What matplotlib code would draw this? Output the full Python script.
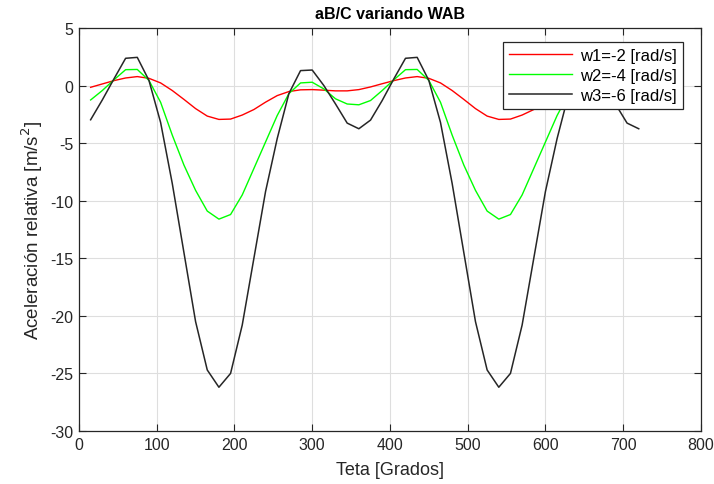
import matplotlib
matplotlib.use('Agg')
import matplotlib.pyplot as plt

# angle samples [deg]
teta = [15, 30, 45, 60, 75, 90, 105, 120, 135, 150, 165, 180,
        195, 210, 225, 240, 255, 270, 285, 300, 315, 330, 345, 360,
        375, 390, 405, 420, 435, 450, 465, 480, 495, 510, 525, 540,
        555, 570, 585, 600, 615, 630, 645, 660, 675, 690, 705, 720]

# relative acceleration [m/s^2]
a_w1 = [-0.15, 0.14, 0.43, 0.66, 0.78, 0.63, 0.23, -0.43, -1.2, -2.0, -2.65, -2.94,
        -2.91, -2.56, -2.08, -1.44, -0.87, -0.52, -0.37, -0.35, -0.40, -0.46, -0.46, -0.35,
        -0.12, 0.16, 0.43, 0.66, 0.78, 0.63, 0.23, -0.43, -1.2, -2.0, -2.65, -2.94,
        -2.91, -2.56, -2.08, -1.44, -0.87, -0.52, -0.37, -0.35, -0.40, -0.46, -0.46, -0.35]
a_w2 = [-1.25, -0.43, 0.5, 1.38, 1.40, 0.45, -1.45, -4.3, -6.9, -9.1, -10.9, -11.6,
        -11.2, -9.5, -7.2, -4.9, -2.6, -0.7, 0.23, 0.29, -0.29, -1.15, -1.6, -1.67,
        -1.3, -0.43, 0.5, 1.38, 1.40, 0.45, -1.45, -4.3, -6.9, -9.1, -10.9, -11.6,
        -11.2, -9.5, -7.2, -4.9, -2.6, -0.7, 0.23, 0.29, -0.29, -1.15, -1.6, -1.67]
a_w3 = [-2.97, -1.25, 0.58, 2.37, 2.45, 0.45, -3.2, -8.5, -14.5, -20.5, -24.7, -26.2,
        -25.0, -20.8, -15.0, -9.2, -4.6, -0.7, 1.3, 1.35, 0.0, -1.6, -3.26, -3.75,
        -3.0, -1.3, 0.58, 2.37, 2.45, 0.45, -3.2, -8.5, -14.5, -20.5, -24.7, -26.2,
        -25.0, -20.8, -15.0, -9.2, -4.6, -0.7, 1.3, 1.35, 0.0, -1.6, -3.26, -3.75]

labels = ['w1=-2 [rad/s]', 'w2=-4 [rad/s]', 'w3=-6 [rad/s]']

plt.rcParams['font.family'] = ['Liberation Sans', 'DejaVu Sans']
plt.rcParams['axes.unicode_minus'] = False

fig = plt.figure(figsize=(7.14, 4.85), dpi=100)
ax = fig.add_axes([0.1106, 0.1093, 0.8711, 0.8309])

ax.plot(teta, a_w1, color='#ff0000', lw=1.0, label=labels[0])
ax.plot(teta, a_w2, color='#00ff00', lw=1.0, label=labels[1])
ax.plot(teta, a_w3, color='#262626', lw=1.1, label=labels[2])

ax.set_xlim(0, 800)
ax.set_ylim(-30, 5)
ax.set_xticks(range(0, 801, 100))
ax.set_yticks(range(-30, 6, 5))
ax.grid(True, color='#dedede', lw=0.8)
ax.set_axisbelow(True)
ax.tick_params(direction='in', top=True, right=True, length=5, width=0.8,
               colors='#262626', labelsize=11.5, pad=4)
for s in ax.spines.values():
    s.set_color('#262626')
    s.set_linewidth(0.9)

ax.set_title('aB/C variando WAB', fontsize=11.5, fontweight='bold', pad=7)
ax.set_xlabel('Teta [Grados]', fontsize=13, color='#262626', labelpad=7)
ax.set_ylabel('Aceleración relativa [m/s$^2$]', fontsize=13.5, color='#262626', labelpad=4)

leg = ax.legend(loc='upper right', bbox_to_anchor=(0.971, 0.965), borderaxespad=0,
                fontsize=12, frameon=True, fancybox=False, framealpha=1,
                handlelength=3.8, borderpad=0.35, labelspacing=0.3, handletextpad=0.5)
leg.get_frame().set_edgecolor('#262626')
leg.get_frame().set_linewidth(0.9)

fig.savefig('out.png', dpi=100)
